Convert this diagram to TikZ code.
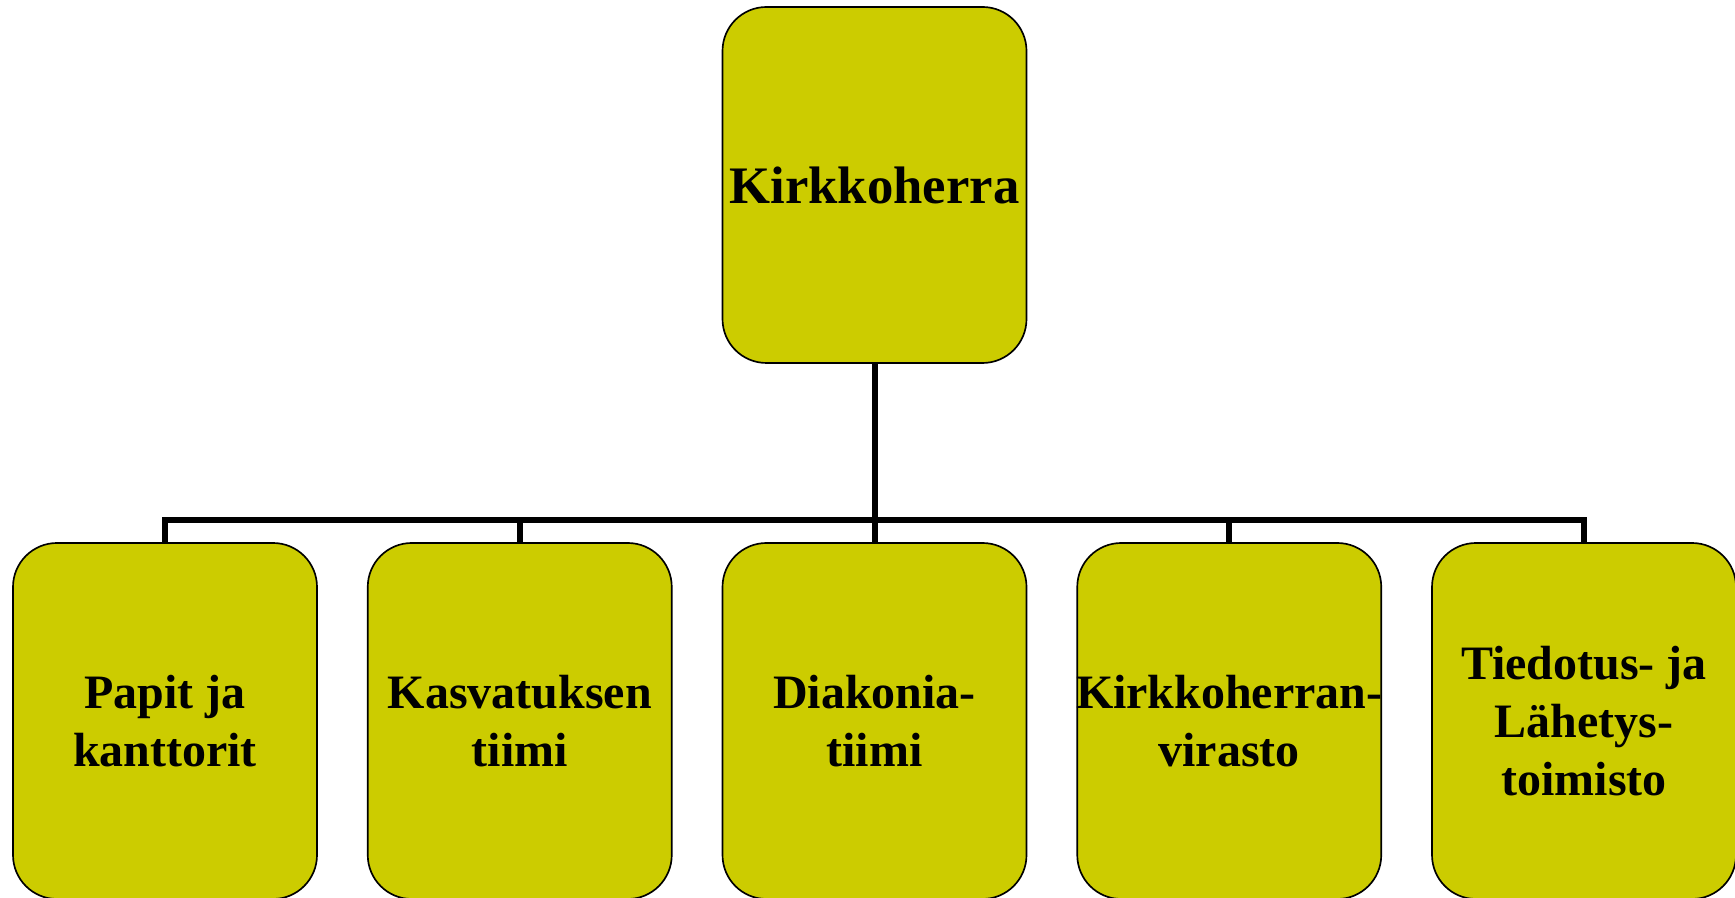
\documentclass[tikz,border=0pt]{standalone}
\usepackage{fontspec}
\setmainfont{Liberation Serif}
\definecolor{olivefill}{RGB}{204,204,0}

\begin{document}
\begin{tikzpicture}
    \useasboundingbox (0, 0) rectangle (34.7, 17.96);
    \tikzstyle{every node} = [shape=rectangle, rounded corners=0.88cm, fill=olivefill, line width=0.95pt,
      minimum width=6.08cm, minimum height=7.12cm, align=center, inner sep=0pt,
      font=\bfseries\fontsize{27.3}{33.2}\selectfont]
    \tikzstyle{conn} = [line width=3.4pt]
    \node (kh) [draw, font=\bfseries\fontsize{30}{34}\selectfont] at (17.49, 14.26) {Kirkkoherra};
    \node (pk) [draw] at (3.30, 3.54) {Papit ja\\kanttorit};
    \node (kt) [draw] at (10.395, 3.54) {Kasvatuksen\\tiimi};
    \node (dt) [draw] at (17.49, 3.54) {Diakonia-\\tiimi};
    \node (kv) [draw] at (24.585, 3.54) {\makebox[6cm]{Kirkkoherran-}\\virasto};
    \node (tl) [draw] at (31.68, 3.54) {Tiedotus- ja\\Lähetys-\\toimisto};
    \coordinate (bus) at (17.49, 7.56);
    \draw [conn] (kh) -- (dt);
    \draw [conn] (pk.north) |- (bus) -| (tl.north);
    \draw [conn] (kt.north) -- (kt.north |- bus);
    \draw [conn] (kv.north) -- (kv.north |- bus);
\end{tikzpicture}
\end{document}
